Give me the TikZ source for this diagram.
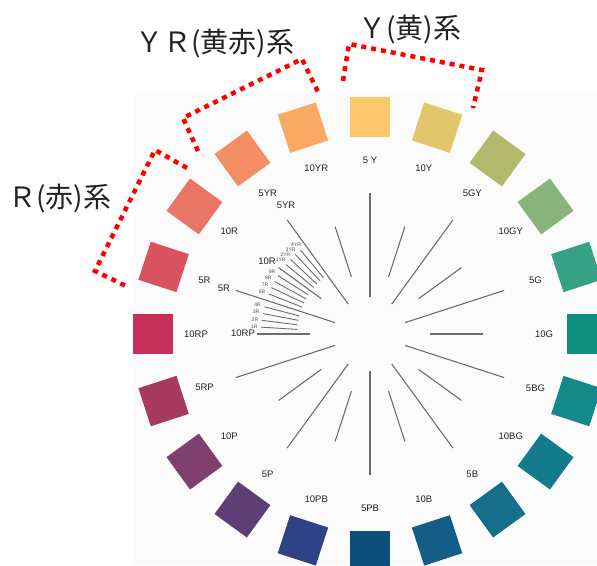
\documentclass[tikz,border=0pt]{standalone}
\usepackage{fontspec}
\setmainfont{Liberation Sans}
\newfontfamily\cjk{Noto Sans CJK JP}
\usetikzlibrary{calc}
\definecolor{c5Y}{HTML}{FFC76B}
\definecolor{c10Y}{HTML}{E3C56B}
\definecolor{c5GY}{HTML}{B2B96C}
\definecolor{c10GY}{HTML}{88B47A}
\definecolor{c5G}{HTML}{37A283}
\definecolor{c10G}{HTML}{0F8F80}
\definecolor{c5BG}{HTML}{14898A}
\definecolor{c10BG}{HTML}{147B8C}
\definecolor{c5B}{HTML}{156E8C}
\definecolor{c10B}{HTML}{135D87}
\definecolor{c5PB}{HTML}{0F4F7B}
\definecolor{c10PB}{HTML}{2D4386}
\definecolor{c5P}{HTML}{5E4077}
\definecolor{c10P}{HTML}{7F3F6F}
\definecolor{c5RP}{HTML}{A63A5F}
\definecolor{c10RP}{HTML}{C6305B}
\definecolor{c5R}{HTML}{D8535F}
\definecolor{c10R}{HTML}{E87566}
\definecolor{c5YR}{HTML}{F38E64}
\definecolor{c10YR}{HTML}{FAAA63}
\definecolor{bgphoto}{HTML}{FBFBFB}
\definecolor{linegray}{HTML}{6E6E6E}
\definecolor{txt}{HTML}{222222}
\tikzset{
  sq/.style={minimum size=40pt, inner sep=0pt, draw=none},
  hue/.style={font=\fontsize{9.5}{10}\selectfont, text=txt, inner sep=0pt},
  tinyhue/.style={font=\fontsize{5}{5}\selectfont, text=txt!80, inner sep=0pt},
  ray/.style={draw=linegray, line width=1.1pt},
  fineray/.style={draw=linegray, line width=0.9pt},
  bracket/.style={draw=red, line width=4.5pt, dash pattern=on 5pt off 5pt},
  title/.style={font=\cjk\fontsize{28}{28}\selectfont, text=txt, inner sep=0pt, anchor=base west}
}
\begin{document}
\begin{tikzpicture}[x=1pt,y=-1pt]
\useasboundingbox (0,0) rectangle (597,565);
\fill[white] (0,0) rectangle (597,565);
\fill[bgphoto] (133,95) rectangle (597,565);
\coordinate (c) at (370,334);
% squares and outer labels
\foreach \a/\col/\lab [count=\i] in {90/c5Y/5 Y,72/c10Y/10Y,54/c5GY/5GY,36/c10GY/10GY,18/c5G/5G,0/c10G/10G,-18/c5BG/5BG,-36/c10BG/10BG,-54/c5B/5B,-72/c10B/10B,-90/c5PB/5PB,-108/c10PB/10PB,-126/c5P/5P,-144/c10P/10P,-162/c5RP/5RP,180/c10RP/10RP,162/c5R/5R,144/c10R/10R,126/c5YR/5YR,108/c10YR/10YR}{
  \node[sq, fill=\col, rotate=\a] (s\i) at ($(c)+(\a:217pt)$) {};
  \node[hue] (l\i) at ($(c)+(\a:174pt)$) {\lab};
}
% main rays (5 hues long, 10 hues short)
\foreach \a in {90,54,18,-18,-54,-90,-126,-162,162,126}{
  \draw[ray] ($(c)+(\a:37pt)$) -- ($(c)+(\a:141pt)$);
}
\foreach \a in {72,36,0,-36,-72,-108,-144,180,144,108}{
  \draw[ray] ($(c)+(\a:60pt)$) -- ($(c)+(\a:113pt)$);
}
% fine subdivision rays in R and YR
\foreach \k/\lab [count=\j] in {1/1R,2/2R,3/3R,4/4R,6/6R,7/7R,8/8R,9/9R,11/1YR,12/2YR,13/3YR,14/4YR}{
  \pgfmathsetmacro{\ang}{180-3.6*\k}
  \draw[fineray] ($(c)+(\ang:73pt)$) -- ($(c)+(\ang:109pt)$);
  \node[tinyhue] (f\j) at ($(c)+(\ang:116pt)$) {\lab};
}
% inner labels
\node[hue] (i10RP) at (243,333) {10RP};
\node[hue] (i5R) at (224,288) {5R};
\node[hue] (i10R) at (267,261) {10R};
\node[hue] (i5YR) at (286,205) {5YR};
% red dotted brackets
\draw[bracket] (198,151) -- (183,118) -- (302,59) -- (318,92);
\draw[bracket] (187,168) -- (155,150) -- (95,271) -- (128,287);
\draw[bracket] (343,81) -- (349,44) -- (482,70) -- (473,108);
% titles
\node[title] (tYR) at (135,52) {ＹＲ(黄赤)系};
\node[title] (tY) at (358,38) {Ｙ(黄)系};
\node[title] (tR) at (8,207) {Ｒ(赤)系};
\end{tikzpicture}
\end{document}
